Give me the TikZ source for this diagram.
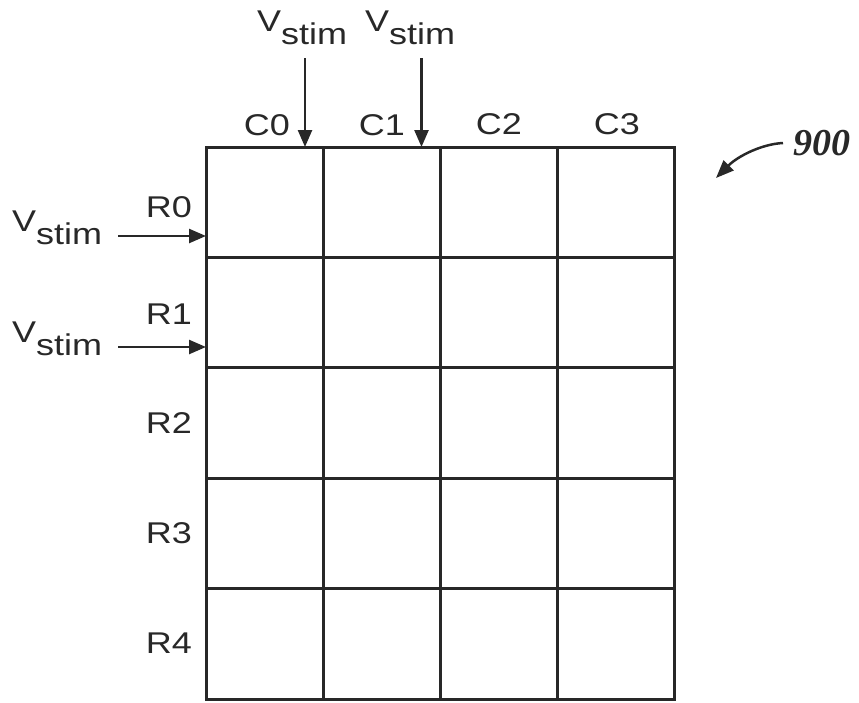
\documentclass[tikz,border=0pt]{standalone}
\usepackage{fontspec}
\setmainfont{Liberation Sans}[FakeStretch=1.2]
\newfontfamily\numfont{Liberation Serif}
\usetikzlibrary{arrows.meta}
\definecolor{inkc}{RGB}{40,40,40}
\newcommand{\vstimlabel}{V\raisebox{-13pt}{stim}}
\begin{document}
\begin{tikzpicture}[x=1pt,y=-1pt,
  gridline/.style={draw=inkc,line width=3pt,line cap=rect},
  feed/.style={draw=inkc,line width=2.5pt,-{Triangle[length=17pt,width=14pt]}},
  lbl/.style={inner sep=0pt,text=inkc,font=\fontsize{30}{34}\selectfont},
  refnum/.style={inner sep=0pt,text=inkc,font=\numfont\bfseries\itshape\fontsize{38}{42}\selectfont}]
\useasboundingbox (0,0) rectangle (859,702);
% grid
\draw[gridline] (206,147) rectangle (674,699);
\foreach \x in {323,440,557} \draw[gridline] (\x,147) -- (\x,699);
\foreach \y in {257.4,367.8,478.2,588.6} \draw[gridline] (206,\y) -- (674,\y);
% column labels
\node[lbl] (C0) at (267,125) {C0};
\node[lbl] (C1) at (382,125) {C1};
\node[lbl] (C2) at (499,124) {C2};
\node[lbl] (C3) at (617,124) {C3};
% row labels
\node[lbl,anchor=east] (R0) at (192,207) {R0};
\node[lbl,anchor=east] (R1) at (192,314) {R1};
\node[lbl,anchor=east] (R2) at (192,423) {R2};
\node[lbl,anchor=east] (R3) at (192,533) {R3};
\node[lbl,anchor=east] (R4) at (192,643) {R4};
% stimulus labels
\node[lbl,anchor=base west] (vt0) at (257,31) {\vstimlabel};
\node[lbl,anchor=base west] (vt1) at (365,31) {\vstimlabel};
\node[lbl,anchor=base west] (vl0) at (12,231) {\vstimlabel};
\node[lbl,anchor=base west] (vl1) at (12,342) {\vstimlabel};
% arrow endpoints
\coordinate (t0s) at (305,58);
\coordinate (t0e) at (305,147);
\coordinate (t1s) at (421.5,58);
\coordinate (t1e) at (421.5,147);
\coordinate (l0s) at (118,236);
\coordinate (l0e) at (206,236);
\coordinate (l1s) at (118,347);
\coordinate (l1e) at (206,347);
\draw[feed] (t0s) -- (t0e);
\draw[feed] (t1s) -- (t1e);
\draw[feed] (l0s) -- (l0e);
\draw[feed] (l1s) -- (l1e);
% reference numeral
\node[refnum,anchor=west] (ref) at (793,143) {900};
\coordinate (reftip) at (716,178);
\draw[draw=inkc,line width=2.5pt,-{Triangle[length=18pt,width=14pt]}]
  (ref.west) ++(-10,0) .. controls (762,144) and (738,156) .. (reftip);
\end{tikzpicture}
\end{document}
